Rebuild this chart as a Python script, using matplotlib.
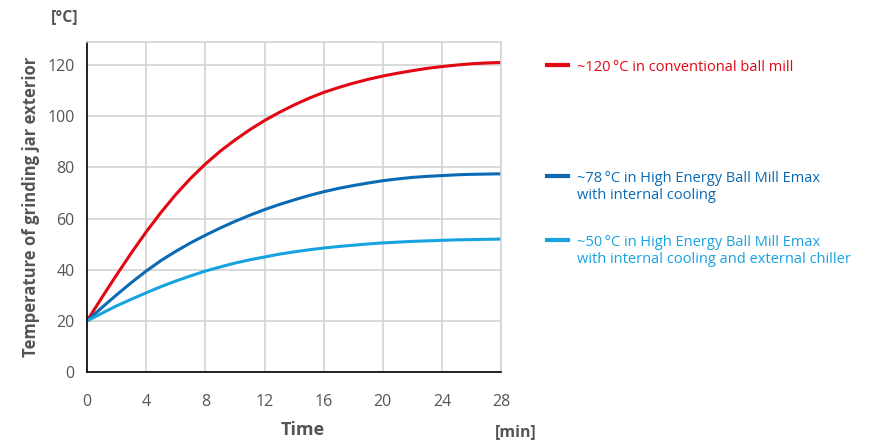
import numpy as np
import matplotlib
matplotlib.use('Agg')
import matplotlib.pyplot as plt

# 数据 (从图中读取, 每分钟一个点)
time_min = list(range(0, 29))
temp_conventional = [20, 29.1, 38.0, 46.6, 54.8, 62.4, 69.4, 75.7, 81.3, 86.3, 90.7, 94.7,
                     98.3, 101.5, 104.4, 107.0, 109.3, 111.2, 112.9, 114.4, 115.7, 116.8,
                     117.8, 118.7, 119.4, 120.0, 120.5, 120.8, 121.0]
temp_emax_internal = [20, 25.2, 30.2, 35.0, 39.5, 43.6, 47.2, 50.5, 53.5, 56.3, 58.9, 61.3,
                      63.5, 65.5, 67.3, 69.0, 70.5, 71.8, 72.9, 73.9, 74.8, 75.5, 76.1,
                      76.5, 76.8, 77.1, 77.3, 77.4, 77.5]
temp_emax_chiller = [20, 23.0, 25.9, 28.5, 31.0, 33.4, 35.6, 37.6, 39.5, 41.1, 42.6, 43.9,
                     45.0, 46.1, 47.0, 47.8, 48.5, 49.1, 49.6, 50.1, 50.5, 50.8, 51.1,
                     51.3, 51.5, 51.7, 51.8, 51.9, 52.0]

series_labels = ['~120\u2009°C in conventional ball mill',
                 '~78\u2009°C in High Energy Ball Mill Emax\nwith internal cooling',
                 '~50\u2009°C in High Energy Ball Mill Emax\nwith internal cooling and external chiller']
series_colors = ['#e30613', '#0a6ab4', '#16a3e0']

x_ticks = [0, 4, 8, 12, 16, 20, 24, 28]
y_ticks = [0, 20, 40, 60, 80, 100, 120]

plt.rcParams['font.family'] = ['Open Sans', 'DejaVu Sans']
text_gray = '#555555'

fig = plt.figure(figsize=(8.85, 4.42), dpi=100)
ax = fig.add_axes([0.0983, 0.158, 0.468, 0.747])

for ys, c in zip([temp_conventional, temp_emax_internal, temp_emax_chiller], series_colors):
    ax.plot(time_min, ys, color=c, linewidth=2.2, solid_capstyle='butt',
            solid_joinstyle='round')

ax.set_xlim(0, 28)
ax.set_ylim(0, 129)
ax.set_xticks(x_ticks)
ax.set_yticks(y_ticks)
ax.grid(True, color='#d3d3d3', linewidth=1.2)
ax.set_axisbelow(True)
ax.tick_params(length=0, labelsize=11.5, labelcolor=text_gray)
ax.tick_params(axis='y', pad=9)
ax.tick_params(axis='x', pad=16)
for s in ['left', 'bottom']:
    ax.spines[s].set_color('black')
    ax.spines[s].set_linewidth(1.2)
for s in ['top', 'right']:
    ax.spines[s].set_color('#d3d3d3')
    ax.spines[s].set_linewidth(1.2)

ax.set_ylabel('Temperature of grinding jar exterior', fontsize=12, fontweight='bold',
              color=text_gray, labelpad=5)
fig.text(65 / 885, 1 - 17 / 442, '[°C]', fontsize=11.5, fontweight='bold', color=text_gray,
         ha='center', va='center')
fig.text(303 / 885, 1 - 430 / 442, 'Time', fontsize=13, fontweight='bold', color=text_gray,
         ha='center', va='center')
fig.text(516 / 885, 1 - 432 / 442, '[min]', fontsize=11.5, fontweight='bold', color=text_gray,
         ha='center', va='center')

# 图例 (右侧, 文字着色)
legend_y = [65, 176, 240]
for lbl, c, yy in zip(series_labels, series_colors, legend_y):
    fy = 1 - yy / 442
    fig.add_artist(plt.Line2D([547 / 885, 568 / 885], [fy, fy], color=c, linewidth=3,
                              transform=fig.transFigure))
    fig.text(577 / 885, fy + 0.012, lbl, fontsize=10.5, color=c, ha='left', va='top',
             linespacing=1.2)

fig.savefig('out.png', dpi=100)
